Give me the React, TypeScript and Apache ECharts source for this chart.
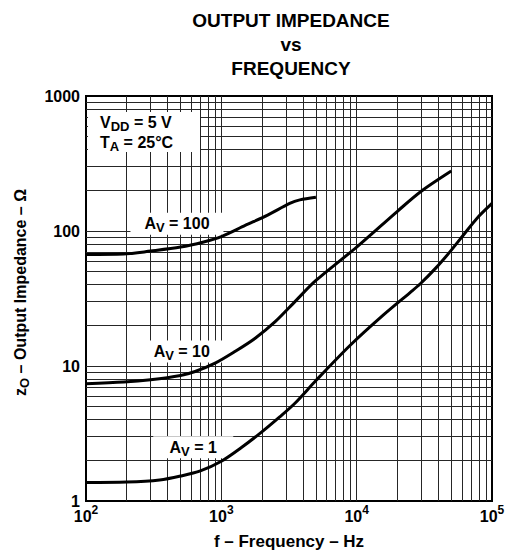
import React, { useEffect, useRef } from "react";
import * as echarts from "echarts";

// ---- data ----
const FREQ_AV100 = [100, 190, 300, 500, 740, 1000, 1500, 2200, 3200, 3800, 5000];
const Z_AV100 = [67, 67.5, 71, 76, 83, 91, 110, 131, 160, 170, 178];

const FREQ_AV10 = [100, 190, 300, 500, 640, 900, 1260, 1770, 2500, 3500, 5000, 10000, 20000, 30000, 50000];
const Z_AV10 = [7.4, 7.6, 7.9, 8.5, 9.1, 10.5, 12.8, 16, 21.3, 30, 43, 76, 140, 197, 278];

const FREQ_AV1 = [100, 200, 350, 500, 700, 1000, 1400, 1930, 2700, 3500, 5000, 9000, 15700, 24800, 29400, 39000, 49000, 61500, 77300, 100000];
const Z_AV1 = [1.37, 1.38, 1.43, 1.53, 1.67, 1.97, 2.48, 3.17, 4.2, 5.3, 7.8, 14.3, 23.8, 35, 40.5, 54, 70.3, 93.4, 124, 160];

const X_MINOR = [200, 300, 400, 500, 600, 700, 800, 900, 2000, 3000, 4000, 5000, 6000, 7000, 8000, 9000, 20000, 30000, 40000, 50000, 60000, 70000, 80000, 90000];
const Y_MINOR = [2, 3, 4, 5, 6, 7, 8, 9, 20, 30, 40, 50, 60, 70, 80, 90, 200, 300, 400, 500, 600, 700, 800, 900];

const GAIN_LABELS = ["100", "10", "1"];
const GAIN_LABEL_F = [470, 510, 620];
const GAIN_LABEL_Z = [113, 12.8, 2.5];

const TITLE_LINES = ["OUTPUT IMPEDANCE", "vs", "FREQUENCY"];
const FONT = "'Liberation Sans', Arial, Helvetica, sans-serif";
const GRID_COLOR = "#262626";

const zip = (xs: number[], ys: number[]) => xs.map((x, i) => [x, ys[i]]);

const curve = (name: string, xs: number[], ys: number[]) => ({
  name,
  type: "line",
  data: zip(xs, ys),
  smooth: 0.3,
  showSymbol: false,
  symbol: "none",
  silent: true,
  z: 3,
  lineStyle: { color: "#000", width: 3 },
});

const rich = {
  b: { fontSize: 16, fontWeight: "bold", fontFamily: FONT, fill: "#000", color: "#000", lineHeight: 20 },
  s: { fontSize: 13, fontWeight: "bold", fontFamily: FONT, fill: "#000", color: "#000", lineHeight: 20, padding: [8, 0, 0, 0] },
};

export default function App() {
  const ref = useRef<HTMLDivElement>(null);
  useEffect(() => {
    document.body.style.margin = "0";
    const chart = echarts.init(ref.current!, null, { renderer: "svg" });
    chart.setOption({
      animation: false,
      backgroundColor: "#fff",
      title: {
        text: TITLE_LINES.join("\n"),
        left: 291,
        top: 8,
        padding: 0,
        textAlign: "center",
        textStyle: { fontSize: 19, fontWeight: "bold", fontFamily: FONT, color: "#000", lineHeight: 24 },
      },
      grid: {
        left: 86,
        top: 96,
        width: 406,
        height: 405,
        show: true,
        borderColor: "#000",
        borderWidth: 2,
        backgroundColor: "transparent",
      },
      xAxis: {
        type: "log",
        logBase: 10,
        min: 100,
        max: 100000,
        name: "f – Frequency – Hz",
        nameLocation: "middle",
        nameGap: 32,
        nameTextStyle: { fontSize: 17, fontWeight: "bold", fontFamily: FONT, color: "#000" },
        axisLine: { show: false },
        axisTick: { show: false },
        splitLine: { show: true, showMinLine: false, showMaxLine: false, lineStyle: { color: GRID_COLOR, width: 1 } },
        axisLabel: {
          margin: 4,
          formatter: (v: number) => `{b|10}{p|${Math.round(Math.log10(v))}}`,
          rich: {
            b: { fontSize: 16, fontWeight: "bold", fontFamily: FONT, color: "#000", lineHeight: 22 },
            p: { fontSize: 12, fontWeight: "bold", fontFamily: FONT, color: "#000", lineHeight: 16, padding: [0, 0, 12, 0] },
          },
        },
      },
      yAxis: {
        type: "log",
        logBase: 10,
        min: 1,
        max: 1000,
        name: "{b|z}{s|O}{b| – Output Impedance – Ω}",
        nameLocation: "middle",
        nameGap: 56,
        nameTextStyle: {
          padding: [0, 0, 0, 12],
          rich: {
            b: { fontSize: 16, fontWeight: "bold", fontFamily: FONT, color: "#000", lineHeight: 20 },
            s: { fontSize: 13, fontWeight: "bold", fontFamily: FONT, color: "#000", lineHeight: 20, padding: [8, 0, 0, 0] },
          },
        },
        axisLine: { show: false },
        axisTick: { show: false },
        splitLine: { show: true, showMinLine: false, showMaxLine: false, lineStyle: { color: GRID_COLOR, width: 1 } },
        axisLabel: {
          margin: 6,
          fontSize: 16,
          fontWeight: "bold",
          fontFamily: FONT,
          color: "#000",
          formatter: (v: number) => String(Math.round(v)),
        },
      },
      series: [
        {
          name: "grid-minor",
          type: "line",
          data: [],
          silent: true,
          z: 1,
          markLine: {
            silent: true,
            z: 1,
            symbol: ["none", "none"],
            label: { show: false },
            emphasis: { disabled: true },
            lineStyle: { color: GRID_COLOR, width: 1, type: "solid" },
            data: [...X_MINOR.map((v) => ({ xAxis: v })), ...Y_MINOR.map((v) => ({ yAxis: v }))],
          },
        },
        curve("AV=100", FREQ_AV100, Z_AV100),
        curve("AV=10", FREQ_AV10, Z_AV10),
        curve("AV=1", FREQ_AV1, Z_AV1),
      ],
    });

    // annotations: boxes placed at data coordinates through the chart's own axes
    // white boxes sit above the grid lines (z 1) but below the curves (z 3)
    const gainGraphics: any[] = [];
    GAIN_LABELS.forEach((g, i) => {
      const [px, py] = chart.convertToPixel({ gridIndex: 0 }, [GAIN_LABEL_F[i], GAIN_LABEL_Z[i]]) as number[];
      const w = 80 + 6.5 * (g.length - 1);
      gainGraphics.push({
        type: "rect",
        z: 2,
        shape: { x: px - w / 2, y: py - 11, width: w, height: 22 },
        style: { fill: "#fff" },
      });
      gainGraphics.push({
        type: "text",
        z: 4,
        x: px,
        y: py,
        style: {
          text: `{b|A}{s|V}{b| = ${g}}`,
          rich,
          align: "center",
          verticalAlign: "middle",
        },
      });
    });
    chart.setOption({
      graphic: [
        { type: "rect", z: 2, shape: { x: 88, y: 112, width: 112, height: 40 }, style: { fill: "#fff" } },
        {
          type: "text",
          z: 4,
          x: 100,
          y: 112,
          style: {
            text: "{b|V}{s|DD}{b| = 5 V}\n{b|T}{s|A}{b| = 25°C}",
            rich,
            align: "left",
            verticalAlign: "top",
          },
        },
        ...gainGraphics,
      ],
    });
    return () => chart.dispose();
  }, []);
  return <div ref={ref} style={{ width: 525, height: 558 }} />;
}
